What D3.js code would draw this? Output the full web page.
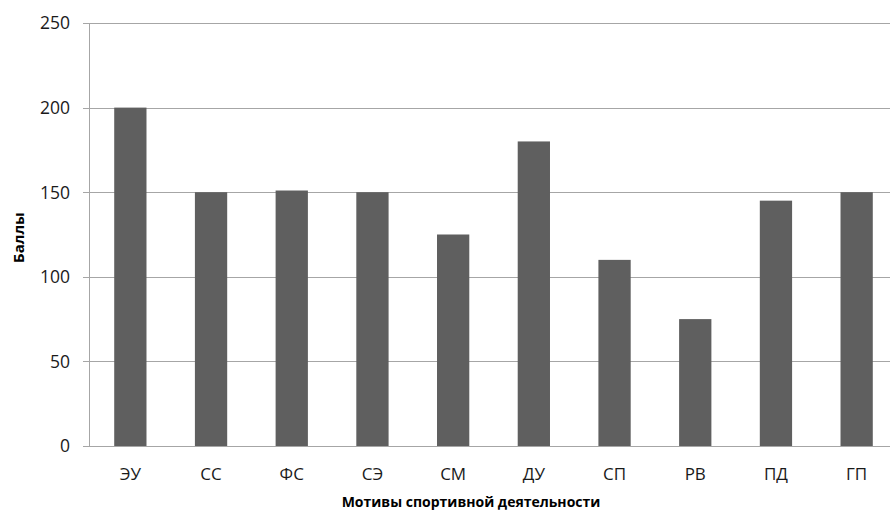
<!DOCTYPE html>
<html><head><meta charset="utf-8">
<script src="https://cdn.jsdelivr.net/npm/d3@7"></script>
<style>body{margin:0;background:#fff}svg{display:block}</style>
</head><body>
<svg id="c" width="890" height="517"></svg>
<script>
const categories = ["ЭУ","СС","ФС","СЭ","СМ","ДУ","СП","РВ","ПД","ГП"];
const values = [200,150,151,150,125,180,110,75,145,150];
const yTicks = [0,50,100,150,200,250];
const yTitle = "Баллы";
const xTitle = "Мотивы спортивной деятельности";

(function(){
const svg = d3.select("#c");
const font = "'Open Sans', 'Noto Sans', sans-serif";
const pL = 90, pR = 897, pT = 23, pB = 446;
const x = d3.scaleBand().domain(categories).range([pL, pR]).paddingInner(0.6).paddingOuter(0.3);
const y = d3.scaleLinear().domain([0,250]).range([pB, pT]);

svg.append("g").selectAll("line").data(yTicks).join("line")
  .attr("x1", pL - 7).attr("x2", 890)
  .attr("y1", d => Math.round(y(d)) + 0.5).attr("y2", d => Math.round(y(d)) + 0.5)
  .attr("stroke", "#a6a6a6").attr("stroke-width", 1);

svg.append("line").attr("x1", pL - 0.5).attr("x2", pL - 0.5)
  .attr("y1", pT).attr("y2", pB + 1).attr("stroke", "#a6a6a6");

svg.append("g").selectAll("rect").data(values).join("rect")
  .attr("x", (d,i) => x(categories[i]))
  .attr("width", x.bandwidth())
  .attr("y", d => y(d))
  .attr("height", d => y(0) - y(d))
  .attr("fill", "#5f5f5f");

svg.append("g").selectAll("text").data(yTicks).join("text")
  .attr("x", 70).attr("y", d => y(d)).attr("dy", "0.36em")
  .attr("text-anchor", "end").attr("font-family", font).attr("font-size", 17.5)
  .attr("fill", "#1a1a1a").text(d => d);

svg.append("g").selectAll("text").data(categories).join("text")
  .attr("x", d => x(d) + x.bandwidth()/2).attr("y", 480)
  .attr("text-anchor", "middle").attr("font-family", font).attr("font-size", 17)
  .attr("fill", "#1a1a1a").text(d => d);

svg.append("text").attr("transform", "translate(24," + ((pT+pB)/2 + 3) + ") rotate(-90)")
  .attr("text-anchor", "middle").attr("font-family", font).attr("font-size", 15)
  .attr("font-weight", "bold").attr("fill", "#000").text(yTitle);
svg.append("text").attr("x", 471).attr("y", 507)
  .attr("text-anchor", "middle").attr("font-family", font).attr("font-size", 14)
  .attr("font-weight", "bold").attr("fill", "#000").text(xTitle);
})();
</script>
</body></html>
